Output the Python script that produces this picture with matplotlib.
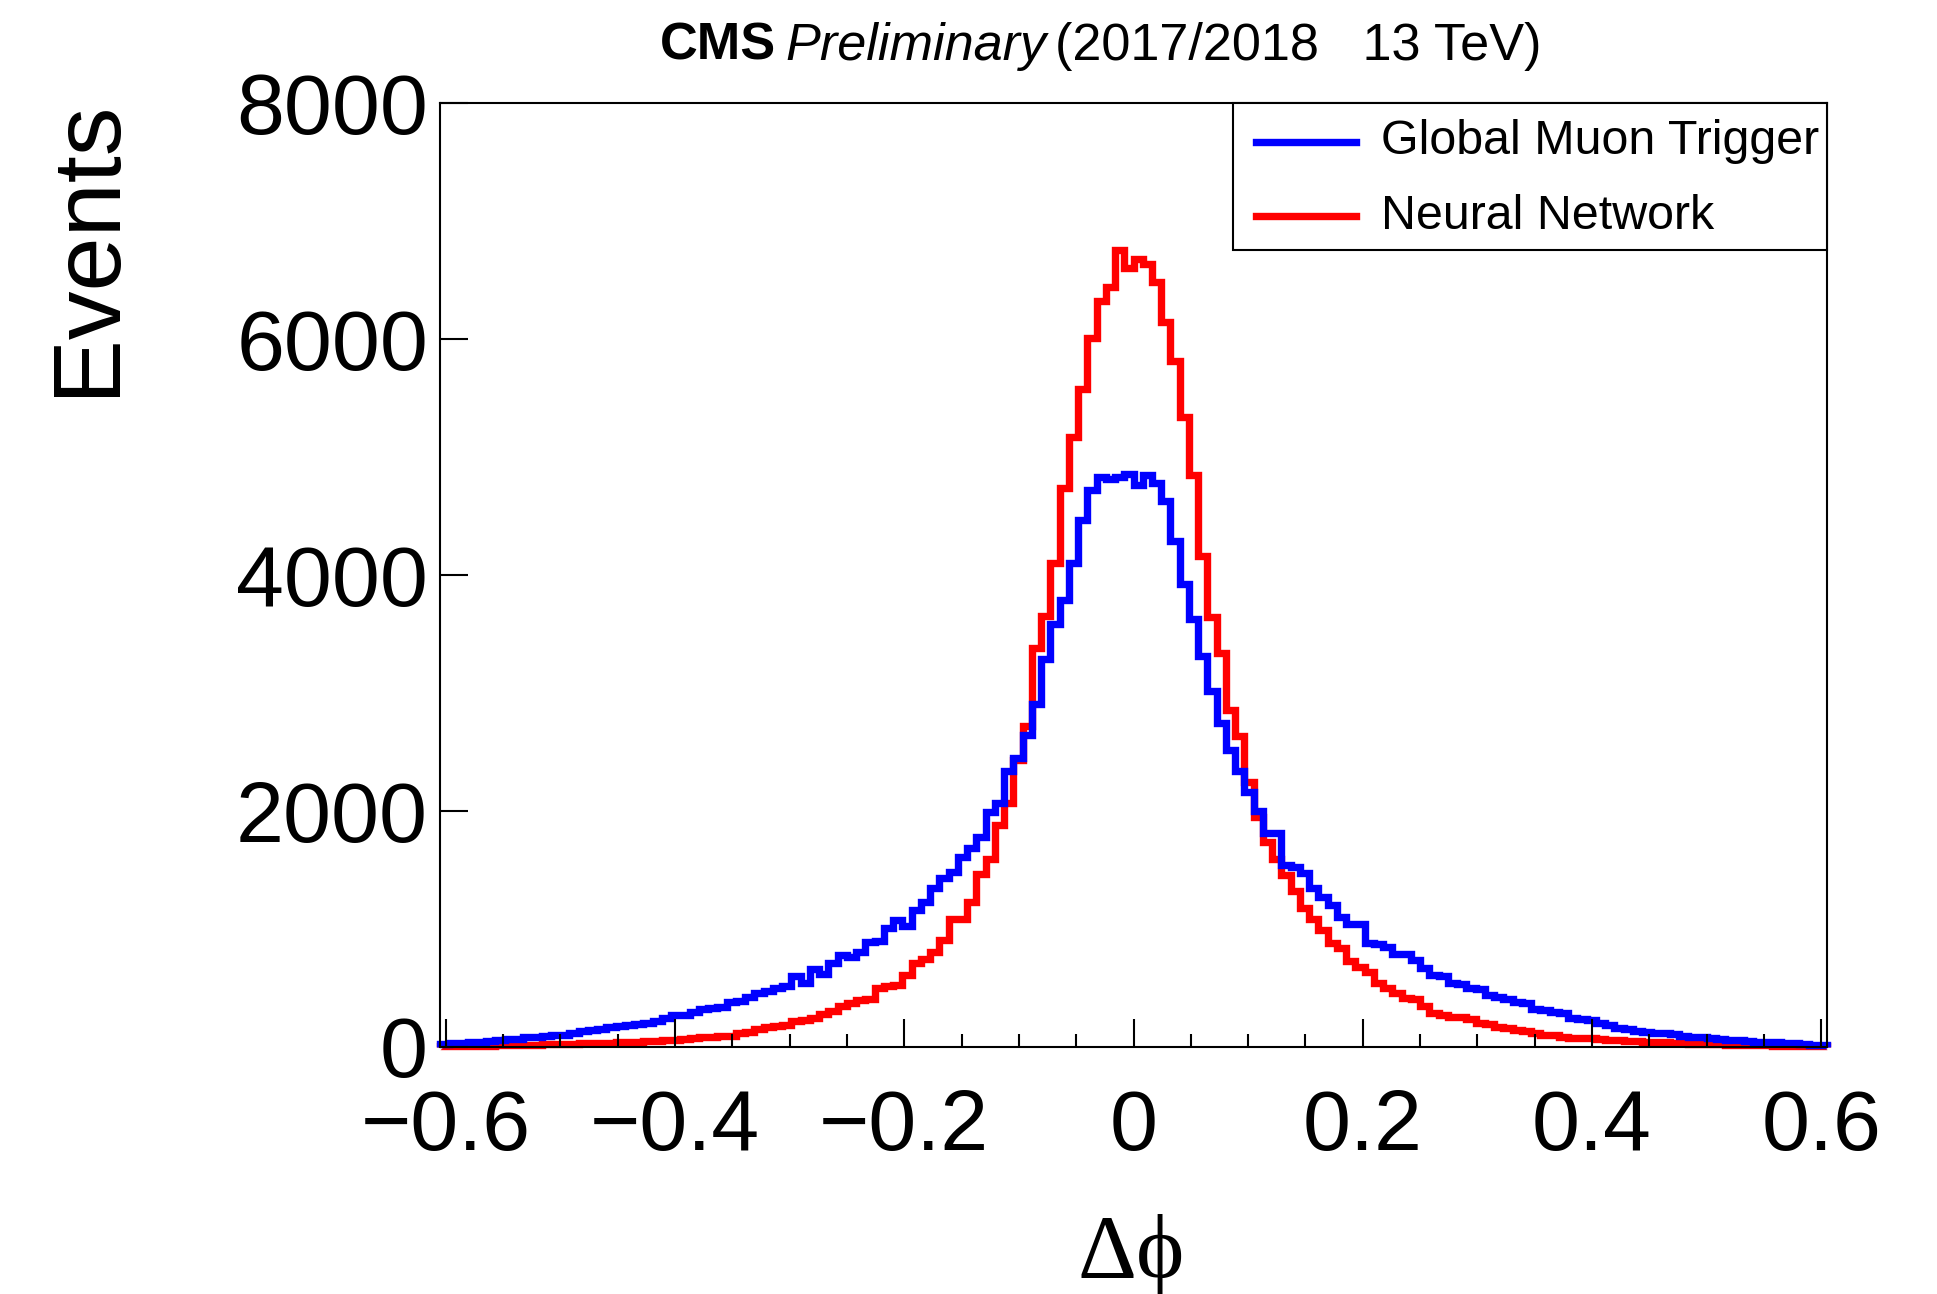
import numpy as np
import matplotlib
matplotlib.use('Agg')
import matplotlib.pyplot as plt
from matplotlib.lines import Line2D
from matplotlib.patches import Rectangle

plt.rcParams['font.family'] = ['Liberation Sans', 'DejaVu Sans']
plt.rcParams['axes.unicode_minus'] = True

# histogram binning (delta phi)
dphi_lo, dphi_hi, n_bins = -0.605, 0.605, 150

# Global Muon Trigger, events per bin
gmt_counts = [
    21, 27, 33, 38, 41, 49, 55, 64, 66, 78,
    83, 92, 95, 100, 117, 131, 140, 151, 162, 177,
    185, 191, 202, 219, 244, 264, 270, 290, 321, 326,
    339, 380, 386, 422, 456, 473, 493, 513, 598, 541,
    654, 615, 705, 776, 762, 804, 889, 897, 1002, 1072,
    1021, 1157, 1228, 1341, 1426, 1482, 1604, 1680, 1779, 1991,
    2063, 2335, 2448, 2639, 2902, 3287, 3582, 3786, 4103, 4466,
    4715, 4825, 4808, 4830, 4858, 4765, 4845, 4775, 4622, 4283,
    3925, 3629, 3310, 3015, 2743, 2516, 2335, 2154, 1995, 1814,
    1814, 1542, 1519, 1475, 1341, 1271, 1200, 1101, 1039, 1039,
    875, 869, 841, 784, 784, 733, 663, 606, 598, 536,
    530, 493, 485, 437, 422, 400, 380, 366, 315, 309,
    295, 281, 244, 236, 225, 196, 182, 154, 146, 134,
    126, 117, 112, 106, 89, 83, 81, 72, 61, 58,
    52, 47, 41, 38, 35, 33, 27, 21, 16, 13,
]

# Neural Network, events per bin
nn_counts = [
    3, 4, 5, 6, 7, 8, 9, 10, 11, 13,
    15, 17, 19, 21, 23, 26, 28, 31, 33, 36,
    39, 42, 46, 50, 54, 56, 60, 70, 78, 82,
    85, 89, 112, 126, 145, 162, 177, 182, 216, 225,
    244, 275, 304, 343, 365, 394, 405, 493, 513, 522,
    606, 705, 739, 804, 903, 1078, 1078, 1228, 1462, 1590,
    1875, 2063, 2426, 2720, 3378, 3650, 4103, 4738, 5169, 5577,
    6008, 6325, 6438, 6750, 6600, 6680, 6635, 6480, 6145, 5812,
    5334, 4842, 4158, 3643, 3333, 2856, 2630, 2244, 1950, 1737,
    1587, 1451, 1315, 1175, 1078, 988, 880, 832, 727, 671,
    634, 541, 493, 451, 408, 400, 343, 281, 267, 253,
    248, 230, 196, 191, 162, 154, 140, 134, 112, 97,
    95, 83, 75, 72, 68, 62, 57, 53, 50, 46,
    42, 38, 34, 31, 28, 25, 22, 20, 18, 16,
    14, 12, 10, 9, 8, 7, 6, 5, 4, 3,
]

labels = ['Global Muon Trigger', 'Neural Network']
colors = ['#0000ff', '#ff0000']

x_major = [-0.6, -0.4, -0.2, 0.0, 0.2, 0.4, 0.6]
x_major_labels = ['\u22120.6', '\u22120.4', '\u22120.2', '0', '0.2', '0.4', '0.6']
y_major = [0, 2000, 4000, 6000, 8000]

edges = np.linspace(dphi_lo, dphi_hi, n_bins + 1)

W, H = 1937, 1294
fig = plt.figure(figsize=(W / 100, H / 100), dpi=100)
ax = fig.add_axes([440 / W, 1 - 1046.5 / H, 1387 / W, 943.5 / H])

# red first, blue drawn on top
ax.stairs(nn_counts, edges, color=colors[1], linewidth=5.3, clip_on=False, joinstyle='miter')
ax.stairs(gmt_counts, edges, color=colors[0], linewidth=5.3, clip_on=False, joinstyle='miter')

ax.set_xlim(dphi_lo, dphi_hi)
ax.set_ylim(0, 8000)
ax.set_xticks(x_major)
ax.set_xticklabels(x_major_labels)
ax.set_xticks(np.arange(-0.6, 0.601, 0.05), minor=True)
ax.set_yticks(y_major)
ax.set_yticklabels([str(v) for v in y_major])

ax.tick_params(axis='both', which='major', direction='in', length=20, width=1.5,
               labelsize=62, top=False, right=False)
ax.tick_params(axis='x', which='minor', direction='in', length=9.5, width=1.5,
               top=False)
ax.tick_params(axis='x', which='major', pad=30)
ax.tick_params(axis='y', which='major', pad=8.6)
for sp in ax.spines.values():
    sp.set_linewidth(1.5)

# legend box, ROOT style
ax.add_patch(Rectangle((0.5717, 0.8447), 1 - 0.5717, 1 - 0.8447, transform=ax.transAxes,
                       facecolor='white', edgecolor='black', linewidth=1.5, zorder=5,
                       clip_on=False))
for lab, col, yy in zip(labels, colors, [0.9587, 0.8802]):
    ax.add_line(Line2D([0.5883, 0.6604], [yy, yy], transform=ax.transAxes, color=col,
                       linewidth=5.3, zorder=6, clip_on=False))
    ax.text(0.6784, yy, lab, transform=ax.transAxes, fontsize=34.8, va='center',
            ha='left', zorder=6)

# axis titles
fig.text(88 / W, 1 - 99 / H, 'Events', rotation=90, fontsize=70, ha='center', va='top')
fig.text(1131 / W, 1 - 1278 / H, '\u0394\u03d5', fontsize=66,
         family=['Liberation Serif', 'DejaVu Serif'], ha='center', va='baseline')

# header: CMS Preliminary (2017/2018   13 TeV)
renderer = fig.canvas.get_renderer()
yb = 1 - 60 / H
x = 660
for txt, kw in [('CMS', dict(fontweight='bold')),
                ('Preliminary', dict(style='italic')),
                ('(2017/2018   13 TeV)', dict())]:
    t = fig.text(x / W, yb, txt, fontsize=37.6, va='baseline', ha='left', **kw)
    bb = t.get_window_extent(renderer)
    x = bb.x1 + 9

fig.savefig('out.png', dpi=100)
